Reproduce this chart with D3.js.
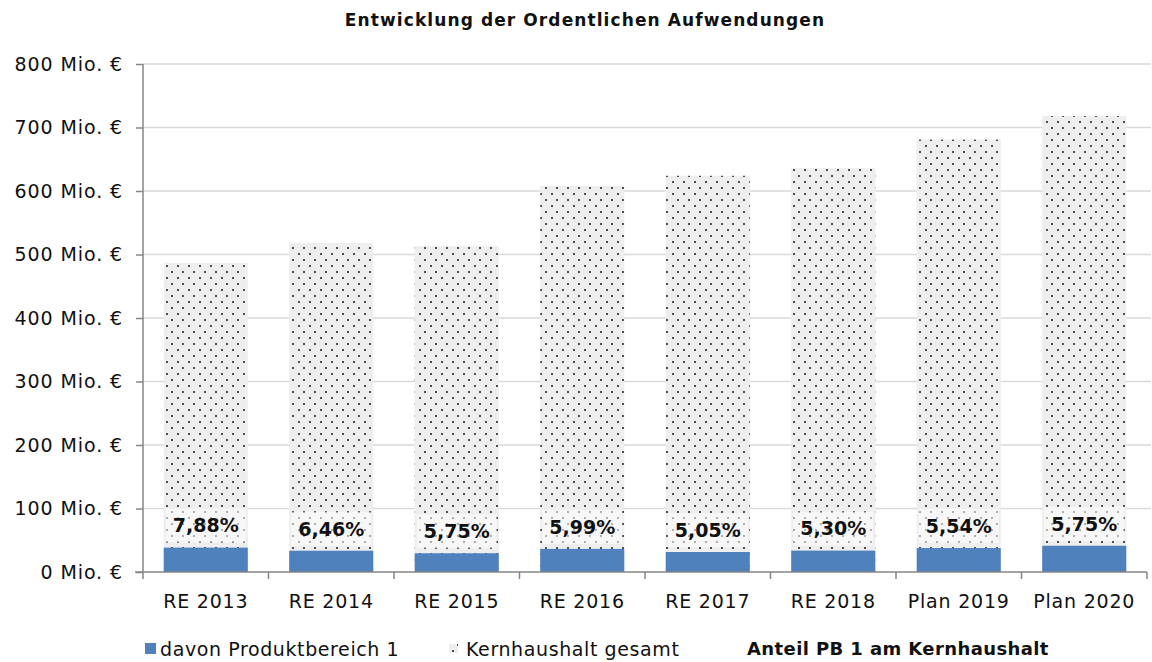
<!DOCTYPE html>
<html>
<head>
<meta charset="utf-8">
<script src="https://cdn.jsdelivr.net/npm/d3@7"></script>
<style>
  body { margin: 0; background: #fff; }
  svg { display: block; }
  text { font-family: "DejaVu Sans", sans-serif; fill: #111; }
</style>
</head>
<body>
<svg id="chart" width="1152" height="662"></svg>
<script>
// chart data
const categories = ["RE 2013", "RE 2014", "RE 2015", "RE 2016", "RE 2017", "RE 2018", "Plan 2019", "Plan 2020"];
const kernhaushalt = [487, 518, 513, 608, 624, 636, 681, 718];   // Mio. €
const produktbereich = [38.4, 33.5, 29.5, 36.4, 31.5, 33.7, 37.7, 41.3]; // Mio. €
const anteil = ["7,88%", "6,46%", "5,75%", "5,99%", "5,05%", "5,30%", "5,54%", "5,75%"];
const yTicks = [0, 100, 200, 300, 400, 500, 600, 700, 800];

const svg = d3.select("#chart");
const plotLeft = 143, plotRight = 1147, plotTop = 64, plotBottom = 572;

const x = d3.scaleBand()
  .domain(categories)
  .range([plotLeft, plotRight])
  .paddingInner(0.33)
  .paddingOuter(0.165);

const y = d3.scaleLinear().domain([0, 800]).range([plotBottom, plotTop]);

// dotted pattern for Kernhaushalt
const defs = svg.append("defs");
const pat = defs.append("pattern")
  .attr("id", "dots")
  .attr("patternUnits", "userSpaceOnUse")
  .attr("width", 11).attr("height", 12);
pat.append("rect").attr("width", 11).attr("height", 12).attr("fill", "#eeeeee");
pat.append("rect").attr("x", 1).attr("y", 1).attr("width", 2).attr("height", 2).attr("fill", "#4d4d4d");
pat.append("rect").attr("x", 6).attr("y", 7).attr("width", 2).attr("height", 2).attr("fill", "#4d4d4d");
pat.selectAll("rect").attr("shape-rendering", "crispEdges");

// title
svg.append("text")
  .attr("x", 585).attr("y", 26)
  .attr("text-anchor", "middle")
  .style("font-size", "17px")
  .style("font-weight", "bold")
  .style("letter-spacing", "1.1px")
  .text("Entwicklung der Ordentlichen Aufwendungen");

// gridlines
svg.append("g")
  .selectAll("line")
  .data(yTicks.filter(d => d > 0))
  .join("line")
  .attr("x1", plotLeft).attr("x2", plotRight + 4)
  .attr("y1", d => y(d)).attr("y2", d => y(d))
  .attr("stroke", "#d9d9d9")
  .attr("stroke-width", 1.5);

// y axis
const yAxis = svg.append("g")
  .attr("transform", `translate(${plotLeft},0)`)
  .call(d3.axisLeft(y).tickValues(yTicks).tickSize(7).tickPadding(13)
    .tickFormat(d => `${d} Mio. €`));
yAxis.selectAll("line, path").attr("stroke", "#868686").attr("stroke-width", 1.5);
yAxis.select(".domain").attr("d", `M0,${plotTop}V${plotBottom}`);
yAxis.selectAll("text")
  .style("font-family", "DejaVu Sans, sans-serif")
  .style("font-size", "19px")
  .style("letter-spacing", "0.9px")
  .attr("fill", "#111");

// bars: total with pattern, share in front
const bars = svg.append("g");
bars.selectAll("rect.total")
  .data(categories)
  .join("rect")
  .attr("class", "total")
  .attr("x", d => x(d))
  .attr("width", x.bandwidth())
  .attr("y", (d, i) => y(kernhaushalt[i]))
  .attr("height", (d, i) => y(0) - y(kernhaushalt[i]))
  .attr("fill", "url(#dots)");

bars.selectAll("rect.pb")
  .data(categories)
  .join("rect")
  .attr("class", "pb")
  .attr("x", d => x(d))
  .attr("width", x.bandwidth())
  .attr("y", (d, i) => y(produktbereich[i]))
  .attr("height", (d, i) => y(0) - y(produktbereich[i]))
  .attr("fill", "#4f81bd");

// share labels
const labels = svg.append("g");
categories.forEach((c, i) => {
  const cy = y(produktbereich[i]) - 22;
  labels.append("rect")
    .attr("x", x(c) + 2)
    .attr("width", x.bandwidth() - 4)
    .attr("y", cy - 17)
    .attr("height", 34)
    .attr("fill", "#fff")
    .attr("opacity", 0.55);
  labels.append("text")
    .attr("x", x(c) + x.bandwidth() / 2)
    .attr("y", cy)
    .attr("dy", "0.36em")
    .attr("text-anchor", "middle")
    .style("font-size", "19px")
    .style("font-weight", "bold")
    .text(anteil[i]);
});

// x axis
const xAxis = svg.append("g")
  .attr("transform", `translate(0,${plotBottom})`);
xAxis.append("line")
  .attr("x1", plotLeft - 8).attr("x2", plotRight)
  .attr("stroke", "#868686").attr("stroke-width", 1.5);
xAxis.selectAll("line.tick")
  .data(categories)
  .join("line")
  .attr("class", "tick")
  .attr("x1", d => x(d) + x.bandwidth() / 2 + x.step() / 2)
  .attr("x2", d => x(d) + x.bandwidth() / 2 + x.step() / 2)
  .attr("y1", 0).attr("y2", 7)
  .attr("stroke", "#868686").attr("stroke-width", 1.5);
xAxis.append("line")
  .attr("x1", plotLeft).attr("x2", plotLeft).attr("y1", 0).attr("y2", 7)
  .attr("stroke", "#868686").attr("stroke-width", 1.5);
xAxis.selectAll("text")
  .data(categories)
  .join("text")
  .attr("x", d => x(d) + x.bandwidth() / 2)
  .attr("y", 36)
  .attr("text-anchor", "middle")
  .style("font-size", "19px")
  .style("letter-spacing", "0.8px")
  .text(d => d);

// legend
const legend = svg.append("g").attr("transform", "translate(0,649)");
legend.append("rect").attr("x", 145).attr("y", -6).attr("width", 11).attr("height", 11).attr("fill", "#4f81bd");
legend.append("text").attr("x", 160).attr("y", 0).attr("dy", "0.36em")
  .style("font-size", "19px").style("letter-spacing", "0.6px")
  .text("davon Produktbereich 1");
legend.append("rect").attr("x", 449).attr("y", -5).attr("width", 9).attr("height", 9).attr("fill", "url(#dots)");
legend.append("text").attr("x", 466).attr("y", 0).attr("dy", "0.36em")
  .style("font-size", "19px").style("letter-spacing", "0.6px")
  .text("Kernhaushalt gesamt");
legend.append("text").attr("x", 747).attr("y", 0).attr("dy", "0.36em")
  .style("font-size", "18px").style("font-weight", "bold").style("letter-spacing", "0.4px")
  .text("Anteil PB 1 am Kernhaushalt");
</script>
</body>
</html>
